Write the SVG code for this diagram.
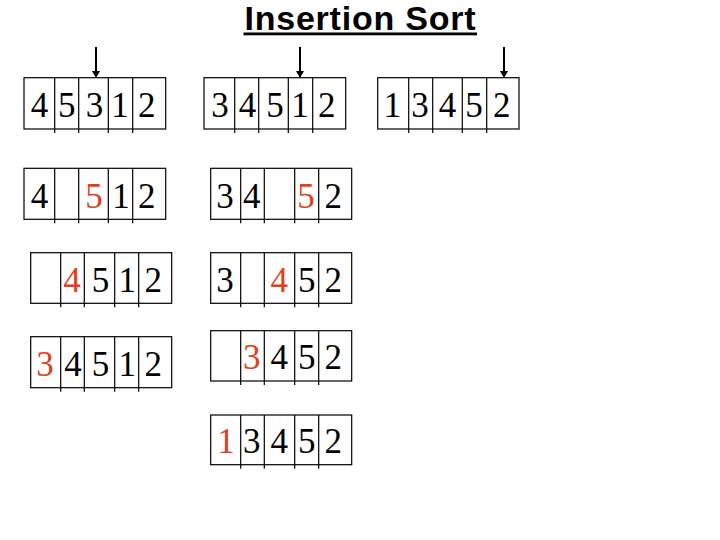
<svg xmlns="http://www.w3.org/2000/svg" width="720" height="540" viewBox="0 0 720 540">
<style>
.box{fill:#fff;stroke:#000;stroke-width:1.2}
.div{stroke:#000;stroke-width:1.2}
.d{font-family:"Liberation Serif","Times New Roman",serif;font-size:35px;text-anchor:middle;fill:#000}
.r{fill:#E0401E}
.title{font-family:"Liberation Sans",Arial,sans-serif;font-size:34px;font-weight:bold;fill:#000}
.arr{stroke:#000;stroke-width:2;marker-end:url(#ah)}
</style>
<defs>
<marker id="ah" markerWidth="8" markerHeight="8" refX="6" refY="4" orient="auto" markerUnits="userSpaceOnUse">
<path d="M0,0 L7,4 L0,8 Z" fill="#000"/>
</marker>
</defs>
<rect width="720" height="540" fill="#fff"/>
<g id="title">
<text class="title" x="244.5" y="30" textLength="231" lengthAdjust="spacing">Insertion Sort</text>
<rect x="243.5" y="32.5" width="233.5" height="2.8" fill="#000"/>
</g>
<g id="connectors">
<line class="arr" x1="96" y1="47" x2="96" y2="77"/>
<line class="arr" x1="300" y1="47" x2="300" y2="77"/>
<line class="arr" x1="504" y1="47" x2="504" y2="77"/>
</g>
<g id="a1">
<rect class="box" x="24" y="77.7" width="141.7" height="51.3"/>
<path class="div" d="M54.7,77.7V133 M78.7,77.7V133 M108.3,77.7V133 M132.7,77.7V133"/>
<text class="d" y="116.5"><tspan x="39.5">4</tspan><tspan x="66.7">5</tspan><tspan x="94.5">3</tspan><tspan x="120">1</tspan><tspan x="146.7">2</tspan></text>
</g>
<g id="a2">
<rect class="box" x="24" y="168.3" width="141.7" height="51"/>
<path class="div" d="M54.7,168.3V223.3 M78.7,168.3V223.3 M108.3,168.3V223.3 M132.7,168.3V223.3"/>
<text class="d" y="207.5"><tspan x="39.5">4</tspan><tspan class="r" x="94">5</tspan><tspan x="121">1</tspan><tspan x="146.7">2</tspan></text>
</g>
<g id="a3">
<rect class="box" x="30.7" y="252.7" width="141" height="50.6"/>
<path class="div" d="M60.7,252.7V307.3 M84.3,252.7V307.3 M114.7,252.7V307.3 M138.7,252.7V307.3"/>
<text class="d" y="291.5"><tspan class="r" x="72">4</tspan><tspan x="100.5">5</tspan><tspan x="127.3">1</tspan><tspan x="153.3">2</tspan></text>
</g>
<g id="a4">
<rect class="box" x="30.7" y="336.7" width="141" height="51"/>
<path class="div" d="M60.7,336.7V391.7 M84.3,336.7V391.7 M114.7,336.7V391.7 M138.7,336.7V391.7"/>
<text class="d" y="375.5"><tspan class="r" x="45">3</tspan><tspan x="73">4</tspan><tspan x="100.5">5</tspan><tspan x="127.3">1</tspan><tspan x="153.3">2</tspan></text>
</g>
<g id="b1">
<rect class="box" x="204" y="77.7" width="141.7" height="51.3"/>
<path class="div" d="M234.7,77.7V133 M258.7,77.7V133 M288.3,77.7V133 M312.7,77.7V133"/>
<text class="d" y="116.5"><tspan x="220">3</tspan><tspan x="247.5">4</tspan><tspan x="275">5</tspan><tspan x="300">1</tspan><tspan x="326.7">2</tspan></text>
</g>
<g id="b2">
<rect class="box" x="210.7" y="168.3" width="141" height="51"/>
<path class="div" d="M240.7,168.3V223.3 M264.3,168.3V223.3 M294.7,168.3V223.3 M318.7,168.3V223.3"/>
<text class="d" y="207.5"><tspan x="225">3</tspan><tspan x="251.7">4</tspan><tspan class="r" x="306">5</tspan><tspan x="333.3">2</tspan></text>
</g>
<g id="b3">
<rect class="box" x="210.7" y="252.7" width="141" height="50.6"/>
<path class="div" d="M240.7,252.7V307.3 M264.3,252.7V307.3 M294.7,252.7V307.3 M318.7,252.7V307.3"/>
<text class="d" y="291.5"><tspan x="225">3</tspan><tspan class="r" x="279.3">4</tspan><tspan x="306.7">5</tspan><tspan x="333.3">2</tspan></text>
</g>
<g id="b4">
<rect class="box" x="210.7" y="330.7" width="141" height="50.3"/>
<path class="div" d="M240.7,330.7V385 M264.3,330.7V385 M294.7,330.7V385 M318.7,330.7V385"/>
<text class="d" y="369"><tspan class="r" x="251.7">3</tspan><tspan x="279.3">4</tspan><tspan x="306.7">5</tspan><tspan x="333.3">2</tspan></text>
</g>
<g id="b5">
<rect class="box" x="210.7" y="415" width="141" height="49.7"/>
<path class="div" d="M240.7,415V468.7 M264.3,415V468.7 M294.7,415V468.7 M318.7,415V468.7"/>
<text class="d" y="452.5"><tspan class="r" x="226">1</tspan><tspan x="251.7">3</tspan><tspan x="279.3">4</tspan><tspan x="306.7">5</tspan><tspan x="333.3">2</tspan></text>
</g>
<g id="c1">
<rect class="box" x="377.7" y="77.7" width="141.3" height="51.3"/>
<path class="div" d="M408.7,77.7V133 M432.7,77.7V133 M462.3,77.7V133 M486.7,77.7V133"/>
<text class="d" y="116.5"><tspan x="392.5">1</tspan><tspan x="420">3</tspan><tspan x="447.5">4</tspan><tspan x="474">5</tspan><tspan x="501.7">2</tspan></text>
</g>
</svg>
